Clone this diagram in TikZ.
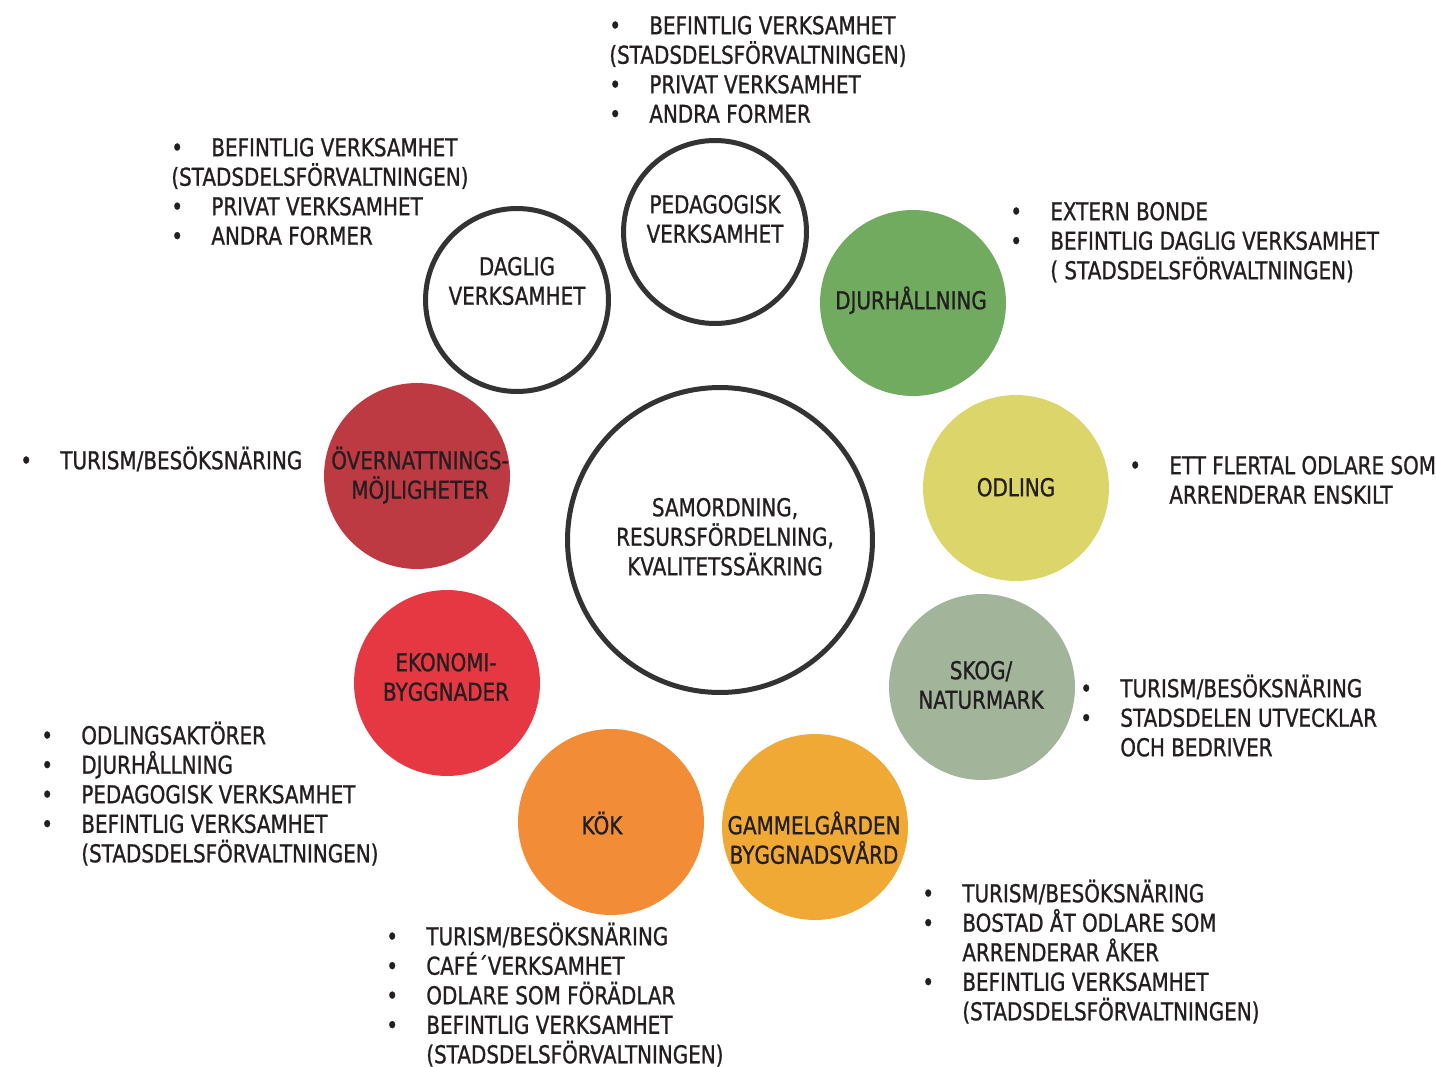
\documentclass[tikz,border=0pt]{standalone}
\usepackage{fontspec}
\setmainfont{DejaVu Sans}[FakeStretch=0.81, FakeBold=1]
\usepackage{xcolor}
\usepackage{tikz}
\usetikzlibrary{positioning}

\definecolor{ringgray}{HTML}{333333}
\definecolor{txtgray}{HTML}{231F20}
\definecolor{djurgreen}{HTML}{71AB60}
\definecolor{odlyellow}{HTML}{DCD56A}
\definecolor{skogsage}{HTML}{A2B59B}
\definecolor{gamorange}{HTML}{F1A936}
\definecolor{kokorange}{HTML}{F28C37}
\definecolor{ekored}{HTML}{E53843}
\definecolor{overred}{HTML}{BE3A43}

\newcommand{\lstrut}{\rule{0pt}{13pt}}
\newcommand{\bul}[1]{\makebox[0.8cm][l]{\textbullet}#1}
\newcommand{\cont}{\hspace*{0.8cm}}

\begin{document}
\begin{tikzpicture}[
  x=0.02cm, y=-0.02cm,
  font=\fontsize{14}{16.8}\selectfont, text=txtgray,
  ring/.style={circle, draw=ringgray, line width=0.1cm, minimum size=3.66cm, inner sep=0pt},
  bigring/.style={ring, minimum size=6.1cm},
  disc/.style={circle, minimum size=3.72cm, inner sep=0pt},
  lbl/.style={anchor=north, align=center, inner sep=0pt},
  lst/.style={anchor=north west, align=left, inner sep=0pt}
]
  \useasboundingbox (0,0) rectangle (1436,1067);

  % circles
  \node[bigring] (mid) at (720,540) {};
  \node[ring] (ped) at (715,232) {};
  \node[ring] (dag) at (517,300) {};
  \node[disc, fill=djurgreen] (djur) at (913,303) {};
  \node[disc, fill=odlyellow] (odl) at (1016,488) {};
  \node[disc, fill=skogsage] (skog) at (982,687) {};
  \node[disc, fill=gamorange] (gam) at (815,827) {};
  \node[disc, fill=kokorange] (kok) at (611,822) {};
  \node[disc, fill=ekored] (eko) at (447,683) {};
  \node[disc, fill=overred] (over) at (417,476) {};

  % circle labels
  \node[lbl] (mid-t) at (725,493) {\lstrut SAMORDNING,\\RESURSFÖRDELNING,\\KVALITETSSÄKRING};
  \node[lbl] (ped-t) at (715,190) {\lstrut PEDAGOGISK\\VERKSAMHET};
  \node[lbl] (dag-t) at (517,252) {\lstrut DAGLIG\\VERKSAMHET};
  \node[lbl] (djur-t) at (911,286) {\lstrut DJURHÅLLNING};
  \node[lbl] (odl-t) at (1016,473) {\lstrut ODLING};
  \node[lbl] (skog-t) at (981,656) {\lstrut SKOG/\\NATURMARK};
  \node[lbl] (gam-t) at (814,811) {\lstrut GAMMELGÅRDEN\\BYGGNADSVÅRD};
  \node[lbl] (kok-t) at (602,811) {\lstrut KÖK};
  \node[lbl] (eko-t) at (446,648) {\lstrut EKONOMI-\\BYGGNADER};
  \node[lbl] (over-t) at (420,446) {\lstrut ÖVERNATTNINGS-\\MÖJLIGHETER};

  % lists
  \node[lst] (ped-l) at (609,11) {\lstrut\bul{BEFINTLIG VERKSAMHET}\\(STADSDELSFÖRVALTNINGEN)\\\bul{PRIVAT VERKSAMHET}\\\bul{ANDRA FORMER}};
  \node[lst] (dag-l) at (171,133) {\lstrut\bul{BEFINTLIG VERKSAMHET}\\(STADSDELSFÖRVALTNINGEN)\\\bul{PRIVAT VERKSAMHET}\\\bul{ANDRA FORMER}};
  \node[lst] (djur-l) at (1010,197) {\lstrut\bul{EXTERN BONDE}\\\bul{BEFINTLIG DAGLIG VERKSAMHET}\\\cont( STADSDELSFÖRVALTNINGEN)};
  \node[lst] (odl-l) at (1129,451) {\lstrut\bul{ETT FLERTAL ODLARE SOM}\\\cont ARRENDERAR ENSKILT};
  \node[lst] (skog-l) at (1080,674) {\lstrut\bul{TURISM/BESÖKSNÄRING}\\\bul{STADSDELEN UTVECKLAR}\\\cont OCH BEDRIVER};
  \node[lst] (gam-l) at (922,879) {\lstrut\bul{TURISM/BESÖKSNÄRING}\\\bul{BOSTAD ÅT ODLARE SOM}\\\cont ARRENDERAR ÅKER\\\bul{BEFINTLIG VERKSAMHET}\\\cont(STADSDELSFÖRVALTNINGEN)};
  \node[lst] (kok-l) at (386,922) {\lstrut\bul{TURISM/BESÖKSNÄRING}\\\bul{CAFÉ´VERKSAMHET}\\\bul{ODLARE SOM FÖRÄDLAR}\\\bul{BEFINTLIG VERKSAMHET}\\\cont(STADSDELSFÖRVALTNINGEN)};
  \node[lst] (eko-l) at (41,721) {\lstrut\bul{ODLINGSAKTÖRER}\\\bul{DJURHÅLLNING}\\\bul{PEDAGOGISK VERKSAMHET}\\\bul{BEFINTLIG VERKSAMHET}\\\cont(STADSDELSFÖRVALTNINGEN)};
  \node[lst] (over-l) at (20,446) {\lstrut\bul{TURISM/BESÖKSNÄRING}};
\end{tikzpicture}
\end{document}
